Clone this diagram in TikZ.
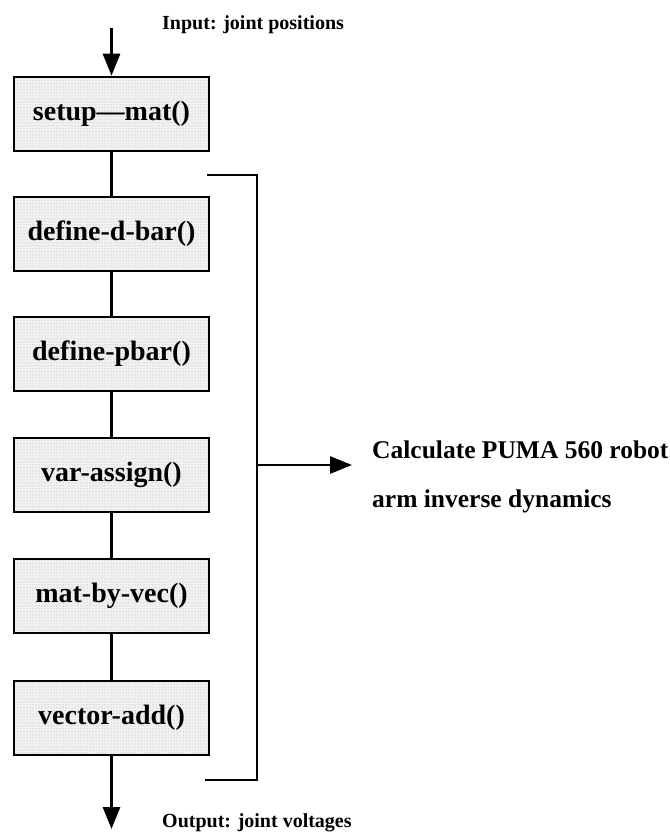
\documentclass[tikz,border=0pt]{standalone}
\usepackage{fontspec}
\setmainfont{Liberation Serif}
\usetikzlibrary{arrows.meta,patterns}
\begin{document}
\begin{tikzpicture}[x=1pt,y=-1pt,
  proc/.style={draw=black,line width=2.6pt,minimum width=195pt,minimum height=74pt,
    inner sep=0pt,preaction={fill=gray!10},pattern=dots,pattern color=gray!70,
    font=\fontsize{28}{32}\bfseries\selectfont},
  link/.style={line width=2.8pt},
  flow/.style={line width=2.8pt,-{Triangle[length=22pt,width=17pt]}},
  bigtext/.style={anchor=base west,inner sep=0pt,font=\fontsize{25.5}{30}\bfseries\selectfont},
  smalltext/.style={anchor=base west,inner sep=0pt,font=\fontsize{20}{24}\bfseries\selectfont}]
\useasboundingbox (0,0) rectangle (669,837);

% the chain of routines
\node[proc] (p1) at (111.5,114) {setup---mat()};
\node[proc] (p2) at (111.5,234) {define-d-bar()};
\node[proc] (p3) at (111.5,354) {define-pbar()};
\node[proc] (p4) at (111.5,475) {var-assign()};
\node[proc] (p5) at (111.5,596) {mat-by-vec()};
\node[proc] (p6) at (111.5,718) {vector-add()};

\draw[link] (p1) -- (p2);
\draw[link] (p2) -- (p3);
\draw[link] (p3) -- (p4);
\draw[link] (p4) -- (p5);
\draw[link] (p5) -- (p6);

% input and output
\coordinate (in) at (111.5,28);
\coordinate (out) at (111.5,829);
\draw[flow] (in) -- (p1.north);
\draw[flow] (p6.south) -- (out);
\node[smalltext] (intext) at (162,30) {Input: joint positions};
\node[smalltext] (outtext) at (162,827) {Output: joint voltages};

% bracket around the routines
\coordinate (bt0) at (207,175);
\coordinate (bt1) at (257,175);
\coordinate (bb1) at (257,780);
\coordinate (bb0) at (205,780);
\draw[link,line join=miter] (bt0) -- (bt1) -- (bb1) -- (bb0);
\coordinate (bm) at (257,465);
\coordinate (tip) at (352,465);
\draw[flow] (bm) -- (tip);

\node[bigtext] (calc1) at (372,458) {Calculate PUMA 560 robot};
\node[bigtext] (calc2) at (372,507) {arm inverse dynamics};
\end{tikzpicture}
\end{document}
